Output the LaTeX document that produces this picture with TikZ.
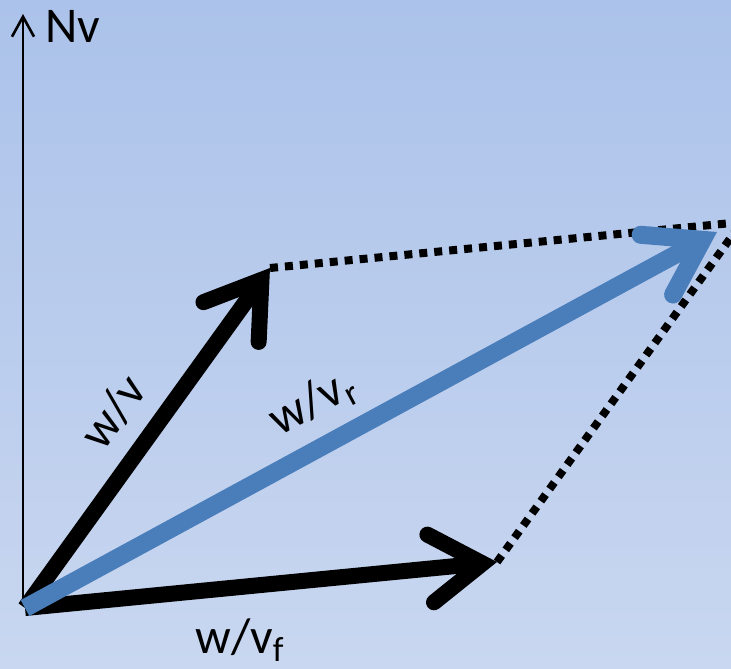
\documentclass[tikz,border=0pt]{standalone}
\usepackage{fontspec}
\setmainfont{Carlito}
\usetikzlibrary{arrows.meta}
\definecolor{vecblue}{RGB}{74,126,187}
\definecolor{bgtop}{RGB}{171,194,234}
\definecolor{bgbot}{RGB}{201,215,240}

\begin{document}
\begin{tikzpicture}[x=0.5pt,y=-0.5pt,
    vec/.style={line width=8pt,-{Straight Barb[length=26pt,width=34pt,line cap=round,line join=miter]}},
    guide/.style={line width=4pt,dash pattern=on 4pt off 3.5pt},
    lbl/.style={font=\fontsize{25}{30}\selectfont}]
  \shade[top color=bgtop,bottom color=bgbot] (0,0) rectangle (731,668);
  \useasboundingbox (0,0) rectangle (731,668);
  \clip (0,0) rectangle (731,668);
  % axis
  \coordinate (ax0) at (23,606);
  \coordinate (axtop) at (23,14);
  \draw[line width=1.3pt,-{Straight Barb[length=10pt,width=11pt]}] (ax0) -- (axtop);
  \node[lbl] (nv) at (73,26) {Nv};
  % vectors and parallelogram
  \coordinate (O) at (25,608);
  \coordinate (A) at (270,268);
  \coordinate (B) at (497,562);
  \coordinate (C) at (742,222);
  \coordinate (R) at (717,232);
  \draw[guide] (A) -- (C);
  \draw[guide] (B) -- (C);
  \draw[vec] (O) -- (A);
  \draw[vec] (O) -- (B);
  \draw[vec,vecblue,line width=9pt] (O) -- (R);
  \node[lbl,rotate=54] (lv) at (113,412) {w/v};
  \node[lbl,rotate=28] (lvr) at (313,403) {w/v\textsubscript{r}};
  \node[lbl] (lvf) at (240,640) {w/v\textsubscript{f}};
\end{tikzpicture}
\end{document}
